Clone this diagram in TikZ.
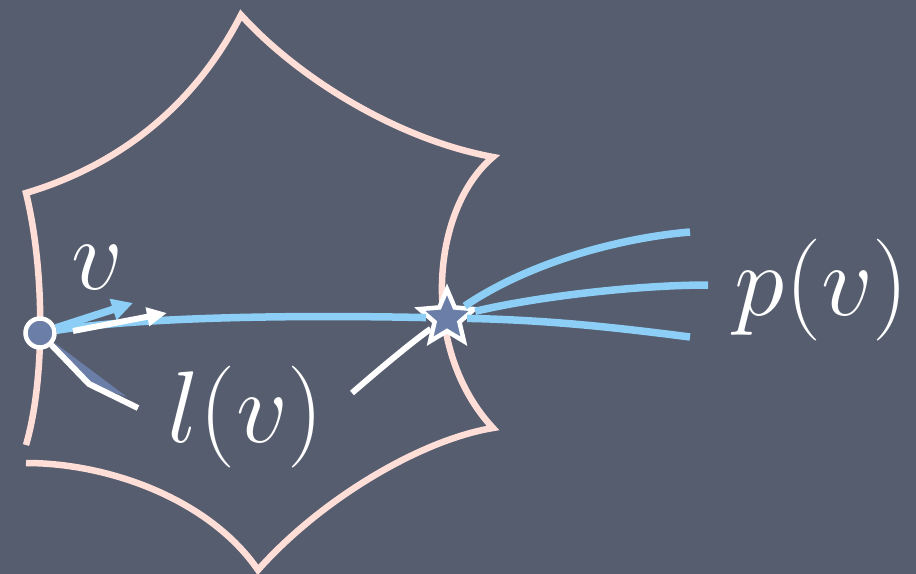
\RequirePackage{fix-cm}
\documentclass[tikz,border=0pt]{standalone}
\usetikzlibrary{shapes.geometric,arrows.meta}
\definecolor{board}{RGB}{86,93,110}
\definecolor{chalkpink}{RGB}{255,222,216}
\definecolor{chalkblue}{RGB}{140,206,245}
\definecolor{slate}{RGB}{106,126,168}
\begin{document}
\begin{tikzpicture}[x=0.02cm,y=-0.02cm,
  edge/.style={chalkpink,line width=0.13cm,line join=miter},
  ray/.style={chalkblue,line width=0.15cm},
  chalk/.style={white,line width=0.12cm},
  lbl/.style={text=white,font=\fontsize{58}{66}\selectfont}]
\fill[board] (0,0) rectangle (916,574);
\useasboundingbox (0,0) rectangle (916,574);
% the cell
\draw[edge] (26,445) .. controls (45,380) and (45,270) .. (26,193)
  .. controls (120,165) and (195,105) .. (241,15)
  .. controls (300,80) and (400,140) .. (493,157)
  .. controls (430,210) and (420,350) .. (493,428)
  .. controls (420,440) and (320,500) .. (258,570)
  .. controls (210,500) and (110,463) .. (26,463);
% points
\node[circle, minimum size=0.58cm, inner sep=0pt, fill=slate, draw=white, line width=0.09cm] (src) at (40,333) {};
\node[star, star points=5, star point ratio=2.2, minimum size=1.15cm, inner sep=0pt, fill=slate, draw=white, line width=0.09cm] (hit) at (447,318) {};
\coordinate (p1) at (690,232);
\coordinate (p2) at (708,285);
\coordinate (p3) at (690,337);
\coordinate (vtip) at (133,303);
\coordinate (wa) at (73,331);
\coordinate (wb) at (167,313);
\coordinate (bend) at (89,384);
\coordinate (lend) at (138,408);
\coordinate (lstart) at (352,393);
% labels
\node[lbl] (vl) at (97,268) {$v$};
\node[lbl] (ll) at (246,417) {$l(v)$};
\node[lbl] (pl) at (822,290) {$p(v)$};
% paths
\draw[ray] (src) .. controls (120,320) and (250,314) .. (hit);
\draw[ray] (hit) .. controls (530,262) and (620,238) .. (p1);
\draw[ray] (hit) .. controls (540,296) and (640,285) .. (p2);
\draw[ray] (hit) .. controls (550,320) and (620,328) .. (p3);
\draw[ray, -{Triangle[length=0.42cm,width=0.42cm]}] (src) -- (vtip);
\draw[chalk, -{Triangle[length=0.4cm,width=0.36cm]}] (wa) -- (wb);
% l(v)
\fill[slate] (55,343) -- (bend) -- (127,397) -- cycle;
\draw[chalk] (src) -- (bend) -- (lend);
\draw[chalk] (lstart) .. controls (390,360) and (420,336) .. (hit);
\end{tikzpicture}
\end{document}
